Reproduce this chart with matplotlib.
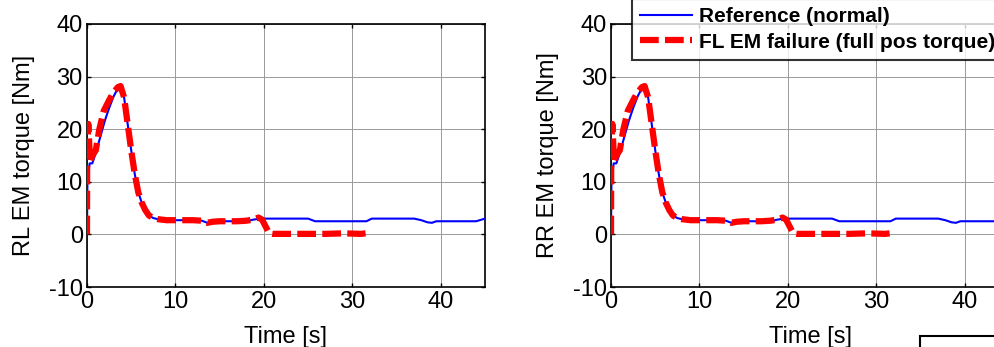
import matplotlib
matplotlib.use("Agg")
import matplotlib.pyplot as plt
from matplotlib.patches import Rectangle

plt.rcParams['font.family'] = ['Liberation Sans', 'DejaVu Sans']
plt.rcParams['axes.unicode_minus'] = False

# Reference (normal) torque
ref_t = [0, 0.05, 0.3, 0.6, 1.0, 1.5, 2.0, 2.5, 3.0, 3.5, 3.8, 4.2, 4.6, 5.0, 5.4,
         5.8, 6.2, 6.6, 7.0, 7.5, 8.0, 9.0, 10, 11, 12, 13, 13.6, 14.2, 15, 16, 17,
         18, 18.8, 19.5, 20, 22, 24, 25, 25.8, 27, 29, 31, 31.6, 32.2, 34, 36, 37,
         37.8, 38.5, 39, 39.5, 41, 43, 44, 44.6, 45]
ref_v = [0, 10, 13.5, 13.5, 15.5, 18.5, 21.5, 24, 26.2, 27.8, 28, 26, 21, 16, 11.5,
         8, 6, 4.6, 3.6, 3.1, 2.9, 2.7, 2.7, 2.7, 2.7, 2.6, 2.2, 2.4, 2.5, 2.5, 2.5,
         2.5, 2.8, 3.0, 3.0, 3.0, 3.0, 3.0, 2.5, 2.5, 2.5, 2.5, 2.5, 3.0, 3.0, 3.0, 3.0,
         2.7, 2.3, 2.2, 2.5, 2.5, 2.5, 2.5, 2.8, 3.0]

# FL EM failure (full pos torque)
fail_t = [0, 0.02, 0.15, 0.35, 0.6, 1.0, 1.4, 1.9, 2.5, 3.0, 3.5, 3.8, 4.2, 4.6, 5.0,
          5.4, 5.8, 6.2, 6.6, 7.0, 7.5, 8.0, 9.0, 10, 11, 12, 13, 13.6, 14.2, 15, 16,
          17, 18, 18.8, 19.4, 19.8, 20.2, 20.6, 21, 23, 25, 27, 29, 31, 31.5]
fail_v = [0, 15, 21, 13.8, 15, 16, 20, 23.5, 25.5, 27, 28, 28.2, 26, 21, 16,
          11.5, 8, 6, 4.6, 3.6, 3.1, 2.9, 2.7, 2.7, 2.7, 2.7, 2.6, 2.2, 2.4, 2.5, 2.5,
          2.5, 2.6, 2.8, 3.2, 2.8, 1.5, 0.2, 0.1, 0.1, 0.1, 0.1, 0.2, 0.1, 0.2]

ylabels = ['RL EM torque [Nm]', 'RR EM torque [Nm]']
series_labels = ['Reference (normal)', 'FL EM failure (full pos torque)']
xticks = [0, 10, 20, 30, 40]
yticks = [-10, 0, 10, 20, 30, 40]

fig = plt.figure(figsize=(9.94, 3.47), dpi=100)
positions = [[0.0875, 0.1729, 0.4004, 0.758], [0.6147, 0.1729, 0.4004, 0.758]]

handles = None
for pos, yl in zip(positions, ylabels):
    ax = fig.add_axes(pos)
    h1, = ax.plot(ref_t, ref_v, color='#0000ff', lw=1.5, zorder=3)
    h2, = ax.plot(fail_t, fail_v, color='#ff0000', lw=4.5, ls=(0, (3, 1)), zorder=4)
    handles = [h1, h2]
    ax.set_xlim(0, 45)
    ax.set_ylim(-10, 40)
    ax.set_xticks(xticks)
    ax.set_yticks(yticks)
    ax.grid(True, color='#999999', lw=0.7)
    ax.set_axisbelow(True)
    ax.tick_params(direction='in', top=True, right=True, length=3, width=1,
                   labelsize=17, pad=3)
    for s in ax.spines.values():
        s.set_linewidth(1.2)
        s.set_color('black')
    ax.set_ylabel(yl, fontsize=17, labelpad=10)
    ax.set_xlabel('Time [s]', fontsize=17, labelpad=9)

leg = fig.legend(handles, series_labels, loc='lower left',
                 bbox_to_anchor=(632 / 994, 1 - 60 / 347),
                 prop={'weight': 'bold', 'size': 15},
                 frameon=True, fancybox=False, edgecolor='black',
                 handlelength=2.5, handletextpad=0.32, borderpad=0.4,
                 labelspacing=0.3, borderaxespad=0)
leg.get_frame().set_linewidth(1.5)

fig.patches.append(Rectangle((920 / 994, -0.2), 0.2, 0.2 + (347 - 336) / 347,
                             transform=fig.transFigure, fill=False,
                             edgecolor='black', lw=1.5))

fig.savefig('out.png', dpi=100)
